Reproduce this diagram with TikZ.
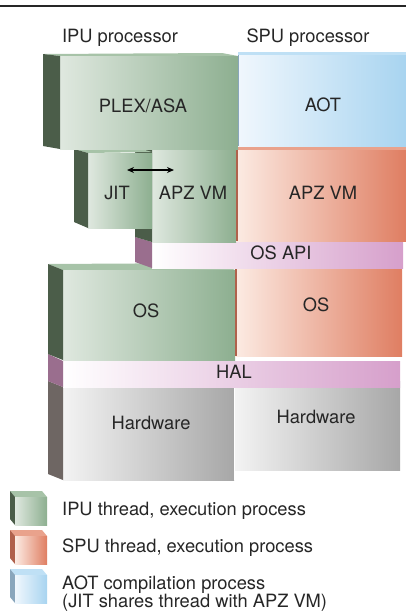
\documentclass[tikz,border=0pt]{standalone}
\usepackage{fontspec}
\setmainfont{TeX Gyre Heros}
\usetikzlibrary{arrows.meta}

\definecolor{ipuL}{HTML}{DFE8DF}
\definecolor{ipuR}{HTML}{8DAF90}
\definecolor{ipuS}{HTML}{4B5D49}
\definecolor{ipuT}{HTML}{A7C3A8}
\definecolor{spuL}{HTML}{FCEBE3}
\definecolor{spuR}{HTML}{DF7E62}
\definecolor{spuS}{HTML}{B0614C}
\definecolor{spuT}{HTML}{E9A28C}
\definecolor{aotL}{HTML}{F0F7FD}
\definecolor{aotR}{HTML}{A8D4F0}
\definecolor{aotS}{HTML}{89A6BC}
\definecolor{aotT}{HTML}{BFE0F5}
\definecolor{apiL}{HTML}{FFFFFF}
\definecolor{apiR}{HTML}{D69FCB}
\definecolor{apiS}{HTML}{9A6E8E}
\definecolor{hwL}{HTML}{F3F3F3}
\definecolor{hwR}{HTML}{A7A7A7}
\definecolor{hwS}{HTML}{6E6663}

\begin{document}
\begin{tikzpicture}[x=1pt, y=-1pt,
    every node/.style={font=\fontsize{18.3}{18}\selectfont, text=black!85, inner sep=0pt},
    ipu/.style={left color=ipuL, right color=ipuR},
    spu/.style={left color=spuL, right color=spuR},
    aot/.style={left color=aotL, right color=aotR},
    api/.style={left color=apiL, right color=apiR},
    hw/.style={left color=hwL, right color=hwR},
    seam/.style={line width=1.5pt}]
  \useasboundingbox (0,0) rectangle (406,614);
  \draw[line width=2pt, black!85] (0,6) -- (406,6);
  \node (ipuhead) at (120,38) {IPU processor};
  \node (spuhead) at (308,38) {SPU processor};

  % hardware and HAL
  \shade[hw] (63,387) rectangle (234,480);
  \fill[hwS] (48,381) -- (63,387) -- (63,480) -- (48,474) -- cycle;
  \shade[hw] (235,381) rectangle (400,470);
  \draw[white, seam] (234.5,381) -- (234.5,480);
  \shade[api] (63,361) rectangle (400,387);
  \fill[apiS] (48,354) -- (63,361) -- (63,387) -- (48,381) -- cycle;

  % OS
  \fill[ipuT] (48,264) -- (220,263) -- (235,270) -- (63,270) -- cycle;
  \shade[ipu] (63,270) rectangle (235,360);
  \fill[ipuS] (48,264) -- (63,270) -- (63,360) -- (48,354) -- cycle;
  \shade[spu] (235,265) rectangle (402,356);
  \draw[spuS, seam] (236,265) -- (236,356);

  % OS API
  \shade[api] (152,242) rectangle (403,268);
  \fill[apiS] (135,237) -- (152,242) -- (152,268) -- (135,262) -- cycle;

  % APZ VM
  \fill[ipuT] (135,145) -- (220,145) -- (236,150) -- (152,150) -- cycle;
  \shade[ipu] (152,150) rectangle (236,242);
  \fill[ipuS] (135,145) -- (152,150) -- (152,242) -- (135,237) -- cycle;
  \fill[spuT] (236,146) -- (406,146) -- (406,150) -- (236,150) -- cycle;
  \shade[spu] (236,150) rectangle (406,241);
  \draw[spuS, seam] (237,150) -- (237,241);

  % JIT
  \fill[ipuT] (74,149) -- (138,148) -- (152,152) -- (88,153) -- cycle;
  \shade[ipu] (88,153) rectangle (152,228);
  \fill[ipuS] (74,149) -- (88,153) -- (88,228) -- (74,222) -- cycle;

  % PLEX/ASA and AOT
  \fill[ipuT] (43,54) -- (222,53) -- (238,56) -- (60,56) -- cycle;
  \shade[ipu] (60,56) rectangle (238,149);
  \fill[ipuS] (43,54) -- (60,56) -- (60,149) -- (43,146) -- cycle;
  \fill[aotT] (238,52) -- (406,52) -- (406,55) -- (238,55) -- cycle;
  \shade[aot] (238,55) rectangle (406,146);
  \draw[aotS, seam] (238.5,55) -- (238.5,146);

  \node (plex) at (143,106) {PLEX/ASA};
  \node (aot) at (323,105) {AOT};
  \node (jit) at (117,193) {JIT};
  \node (apzipu) at (193,193) {APZ VM};
  \node (apzspu) at (323,193) {APZ VM};
  \node (osapi) at (281,253) {OS API};
  \node (osipu) at (146,311) {OS};
  \node (osspu) at (316,305) {OS};
  \node (hal) at (234,372) {HAL};
  \node (hwipu) at (151,423) {Hardware};
  \node (hwspu) at (316,417) {Hardware};

  \coordinate (jitend) at (127,170);
  \coordinate (apzend) at (174,170);
  \draw[{Stealth[length=7pt,width=6pt]}-{Stealth[length=7pt,width=6pt]}, line width=1.2pt] (jitend) -- (apzend);

  % key
  \foreach \y/\f/\s/\t in {491/ipu/ipuS/ipuT, 530/spu/spuS/spuT, 569/aot/aotS/aotT}{
    \fill[\t] (10,\y) -- (42,\y) -- (47,\y+6) -- (15,\y+6) -- cycle;
    \fill[\s] (10,\y) -- (15,\y+6) -- (15,\y+34) -- (10,\y+28) -- cycle;
    \shade[\f] (15,\y+6) rectangle (47,\y+34);
  }
  \node[anchor=west] (ipukey) at (62,511) {IPU thread, execution process};
  \node[anchor=west] (spukey) at (62,548) {SPU thread, execution process};
  \node[anchor=west, align=left] (aotkey) at (62,594) {AOT compilation process\\(JIT shares thread with APZ VM)};
\end{tikzpicture}
\end{document}
